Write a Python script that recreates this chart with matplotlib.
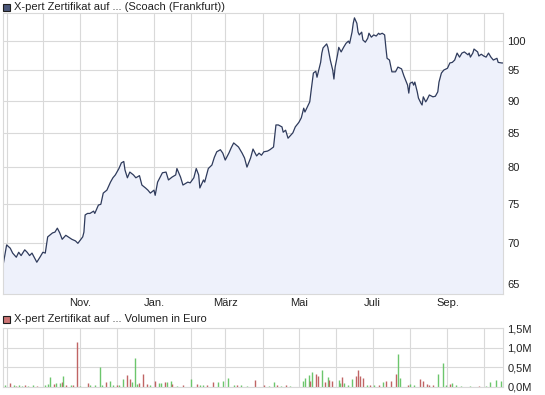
import matplotlib
matplotlib.use('Agg')
import matplotlib.pyplot as plt
import matplotlib.dates as mdates
import matplotlib.ticker as mticker
from matplotlib.patches import Rectangle
import pandas as pd

# price series (EUR)
price_dates = [
    '2012-08-29', '2012-09-01', '2012-09-04', '2012-09-06', '2012-09-09', '2012-09-11', '2012-09-13',
    '2012-09-16', '2012-09-18', '2012-09-20', '2012-09-22', '2012-09-26', '2012-09-29', '2012-10-01',
    '2012-10-03', '2012-10-05', '2012-10-09', '2012-10-11', '2012-10-13', '2012-10-15', '2012-10-17',
    '2012-10-20', '2012-10-22', '2012-10-25', '2012-10-28', '2012-10-30', '2012-11-03', '2012-11-04',
    '2012-11-05', '2012-11-07', '2012-11-09', '2012-11-12', '2012-11-13', '2012-11-16', '2012-11-18',
    '2012-11-20', '2012-11-23', '2012-11-26', '2012-11-28', '2012-11-30', '2012-12-03', '2012-12-05',
    '2012-12-07', '2012-12-08', '2012-12-10', '2012-12-12', '2012-12-15', '2012-12-17', '2012-12-20',
    '2012-12-22', '2012-12-25', '2012-12-27', '2012-12-29', '2013-01-01', '2013-01-02', '2013-01-04',
    '2013-01-08', '2013-01-11', '2013-01-13', '2013-01-16', '2013-01-19', '2013-01-20', '2013-01-23',
    '2013-01-25', '2013-01-29', '2013-01-31', '2013-02-03', '2013-02-05', '2013-02-07', '2013-02-08',
    '2013-02-11', '2013-02-12', '2013-02-15', '2013-02-18', '2013-02-20', '2013-02-22', '2013-02-25',
    '2013-02-27', '2013-03-01', '2013-03-04', '2013-03-06', '2013-03-08', '2013-03-10', '2013-03-12',
    '2013-03-15', '2013-03-17', '2013-03-19', '2013-03-22', '2013-03-24', '2013-03-27', '2013-03-29',
    '2013-03-31', '2013-04-02', '2013-04-05', '2013-04-07', '2013-04-10', '2013-04-12', '2013-04-14',
    '2013-04-17', '2013-04-18', '2013-04-20', '2013-04-22', '2013-04-26', '2013-04-28', '2013-05-01',
    '2013-05-03', '2013-05-05', '2013-05-06', '2013-05-08', '2013-05-10', '2013-05-11', '2013-05-13',
    '2013-05-15', '2013-05-16', '2013-05-19', '2013-05-20', '2013-05-21', '2013-05-24', '2013-05-25',
    '2013-05-27', '2013-05-29', '2013-05-30', '2013-05-31', '2013-06-02', '2013-06-03', '2013-06-05',
    '2013-06-07', '2013-06-09', '2013-06-11', '2013-06-12', '2013-06-14', '2013-06-15', '2013-06-16',
    '2013-06-18', '2013-06-19', '2013-06-20', '2013-06-22', '2013-06-23', '2013-06-25', '2013-06-27',
    '2013-06-28', '2013-06-30', '2013-07-02', '2013-07-04', '2013-07-06', '2013-07-07', '2013-07-09',
    '2013-07-11', '2013-07-12', '2013-07-13', '2013-07-15', '2013-07-17', '2013-07-20', '2013-07-22',
    '2013-07-25', '2013-07-27', '2013-07-30', '2013-07-31', '2013-08-01', '2013-08-03', '2013-08-04',
    '2013-08-05', '2013-08-07', '2013-08-08', '2013-08-10', '2013-08-11', '2013-08-12', '2013-08-14',
    '2013-08-15', '2013-08-17', '2013-08-20', '2013-08-22', '2013-08-24', '2013-08-25', '2013-08-27',
    '2013-08-29', '2013-09-01', '2013-09-03', '2013-09-05', '2013-09-07', '2013-09-09', '2013-09-11',
    '2013-09-13', '2013-09-15', '2013-09-18', '2013-09-19', '2013-09-20', '2013-09-22', '2013-09-23',
    '2013-09-26', '2013-09-27', '2013-09-29', '2013-10-01', '2013-10-03', '2013-10-05', '2013-10-07',
    '2013-10-09', '2013-10-12', '2013-10-13', '2013-10-16', '2013-10-17',
]
prices = [
    67.2, 69.7, 69.3, 68.7, 68.2, 68.8, 68.4,
    69.1, 68.8, 68.4, 68.7, 67.6, 68.3, 68.8,
    68.7, 70.7, 71.2, 71.3, 71.8, 71.2, 70.4,
    70.9, 70.7, 70.4, 70.2, 69.9, 70.7, 71.3,
    73.5, 73.7, 73.7, 74.0, 73.7, 74.8, 74.9,
    76.4, 76.8, 77.9, 78.5, 78.9, 79.8, 80.6,
    80.8, 79.6, 78.5, 79.3, 78.9, 78.5, 78.8,
    77.5, 77.1, 76.8, 76.4, 76.8, 76.1, 77.9,
    79.2, 79.3, 78.2, 78.6, 78.9, 79.8, 78.6,
    77.5, 77.9, 77.8, 78.5, 79.8, 78.9, 77.1,
    78.2, 77.9, 79.8, 80.3, 81.4, 82.2, 82.5,
    82.0, 81.0, 82.0, 82.8, 83.5, 83.2, 82.9,
    82.0, 81.3, 80.0, 81.3, 82.6, 81.6, 82.0,
    81.7, 82.2, 82.3, 82.5, 82.9, 86.2, 86.2,
    85.9, 85.1, 85.4, 84.2, 85.0, 85.9, 86.6,
    87.3, 88.8, 88.2, 89.0, 89.8, 91.4, 94.5,
    94.8, 93.8, 96.3, 97.9, 98.8, 99.5, 98.9,
    96.7, 95.0, 93.5, 95.5, 97.6, 98.9, 98.1,
    98.9, 99.6, 100.0, 99.6, 101.6, 103.2, 104.2,
    103.2, 101.6, 101.1, 101.6, 100.2, 99.8, 100.5,
    101.4, 100.7, 101.1, 100.9, 101.4, 101.2, 101.4,
    101.1, 98.9, 97.0, 96.7, 94.7, 94.7, 95.5,
    95.2, 94.0, 92.5, 91.2, 92.8, 93.0, 92.5,
    93.0, 91.4, 90.4, 89.6, 89.3, 90.6, 89.8,
    90.1, 90.9, 90.6, 90.7, 91.4, 93.0, 94.5,
    95.0, 95.3, 96.2, 96.3, 96.7, 97.9, 97.2,
    97.9, 98.1, 97.6, 97.9, 97.2, 97.9, 98.6,
    98.1, 97.4, 97.7, 97.4, 97.2, 97.9, 97.2,
    96.7, 97.0, 96.3, 96.2, 96.2,
]

# traded volume (million EUR); 1 = price up (green), 0 = down (red)
vol_dates = [
    '2012-08-31', '2012-09-04', '2012-09-07', '2012-09-09', '2012-09-11', '2012-09-14', '2012-09-16',
    '2012-09-19', '2012-09-23', '2012-09-26', '2012-10-03', '2012-10-05', '2012-10-07', '2012-10-10',
    '2012-10-12', '2012-10-15', '2012-10-17', '2012-10-18', '2012-10-20', '2012-10-24', '2012-10-26',
    '2012-10-29', '2012-11-01', '2012-11-07', '2012-11-09', '2012-11-13', '2012-11-17', '2012-11-19',
    '2012-11-22', '2012-11-26', '2012-11-28', '2012-12-01', '2012-12-03', '2012-12-06', '2012-12-10',
    '2012-12-12', '2012-12-14', '2012-12-16', '2012-12-18', '2012-12-20', '2012-12-23', '2012-12-26',
    '2012-12-29', '2013-01-02', '2013-01-05', '2013-01-07', '2013-01-10', '2013-01-12', '2013-01-15',
    '2013-01-16', '2013-01-20', '2013-01-25', '2013-02-01', '2013-02-06', '2013-02-08', '2013-02-11',
    '2013-02-14', '2013-02-19', '2013-02-23', '2013-02-27', '2013-03-03', '2013-03-08', '2013-03-11',
    '2013-03-14', '2013-03-19', '2013-03-26', '2013-04-02', '2013-04-06', '2013-04-10', '2013-04-13',
    '2013-04-16', '2013-04-20', '2013-04-24', '2013-05-04', '2013-05-06', '2013-05-09', '2013-05-10',
    '2013-05-12', '2013-05-15', '2013-05-17', '2013-05-20', '2013-05-23', '2013-05-25', '2013-05-26',
    '2013-05-28', '2013-06-03', '2013-06-04', '2013-06-06', '2013-06-07', '2013-06-11', '2013-06-14',
    '2013-06-17', '2013-06-19', '2013-06-21', '2013-06-23', '2013-06-26', '2013-06-29', '2013-07-02',
    '2013-07-06', '2013-07-10', '2013-07-12', '2013-07-16', '2013-07-20', '2013-07-22', '2013-07-24',
    '2013-07-30', '2013-08-01', '2013-08-04', '2013-08-09', '2013-08-12', '2013-08-15', '2013-08-17',
    '2013-08-20', '2013-08-24', '2013-08-28', '2013-08-31', '2013-09-03', '2013-09-05', '2013-09-08',
    '2013-09-12', '2013-09-20', '2013-09-27', '2013-10-03', '2013-10-06', '2013-10-11', '2013-10-15',
]
volumes = [
    0.05, 0.11, 0.04, 0.03, 0.04, 0.03, 0.04,
    0.03, 0.04, 0.03, 0.06, 0.08, 0.26, 0.08,
    0.09, 0.10, 0.13, 0.28, 0.04, 0.04, 0.05,
    1.15, 0.03, 0.11, 0.06, 0.04, 0.51, 0.04,
    0.13, 0.15, 0.05, 0.06, 0.05, 0.21, 0.30,
    0.20, 0.13, 0.73, 0.08, 0.11, 0.32, 0.07,
    0.04, 0.15, 0.10, 0.09, 0.13, 0.13, 0.15,
    0.08, 0.03, 0.04, 0.20, 0.08, 0.05, 0.06,
    0.04, 0.13, 0.13, 0.15, 0.24, 0.05, 0.05,
    0.04, 0.03, 0.18, 0.04, 0.03, 0.13, 0.04,
    0.03, 0.04, 0.03, 0.15, 0.24, 0.30, 0.15,
    0.37, 0.34, 0.28, 0.44, 0.13, 0.26, 0.18,
    0.15, 0.18, 0.10, 0.26, 0.11, 0.04, 0.21,
    0.28, 0.44, 0.28, 0.24, 0.06, 0.05, 0.04,
    0.06, 0.13, 0.15, 0.15, 0.32, 0.84, 0.24,
    0.05, 0.08, 0.05, 0.21, 0.15, 0.08, 0.06,
    0.05, 0.32, 0.60, 0.05, 0.08, 0.11, 0.06,
    0.03, 0.02, 0.03, 0.03, 0.13, 0.17, 0.15,
]
vol_up = [
    1, 0, 1, 0, 1, 1, 0,
    1, 1, 0, 1, 1, 1, 0,
    1, 1, 0, 1, 0, 1, 0,
    0, 1, 0, 1, 1, 1, 1,
    0, 1, 1, 0, 1, 1, 0,
    0, 1, 1, 1, 0, 0, 0,
    1, 0, 1, 1, 0, 1, 1,
    0, 1, 0, 1, 0, 1, 1,
    0, 0, 1, 1, 1, 1, 0,
    1, 1, 0, 0, 1, 1, 0,
    1, 0, 1, 1, 1, 1, 0,
    1, 0, 0, 1, 0, 1, 0,
    0, 1, 1, 0, 1, 1, 1,
    0, 0, 0, 0, 1, 0, 1,
    0, 1, 0, 0, 0, 1, 1,
    0, 1, 1, 0, 0, 0, 0,
    0, 1, 1, 1, 0, 1, 1,
    1, 1, 0, 1, 1, 1, 1,
]

month_ticks = ['2012-11-01', '2013-01-01', '2013-03-01', '2013-05-01', '2013-07-01', '2013-09-01']
month_labels = ['Nov.', 'Jan.', 'März', 'Mai', 'Juli', 'Sep.']
price_ticks = [65, 70, 75, 80, 85, 90, 95, 100]
vol_ticks = [0.0, 0.5, 1.0, 1.5]
vol_tick_labels = ['0,0M', '0,5M', '1,0M', '1,5M']
title_price = 'X-pert Zertifikat auf ... (Scoach (Frankfurt))'
title_vol = 'X-pert Zertifikat auf ... Volumen in Euro'

plt.rcParams['font.family'] = ['Liberation Sans', 'DejaVu Sans']
plt.rcParams['font.size'] = 8

px = pd.to_datetime(price_dates)
vx = pd.to_datetime(vol_dates)
mx = mdates.date2num(pd.to_datetime(month_ticks))

grid_col = '#d9d9d9'
fig = plt.figure(figsize=(5.45, 3.95), dpi=100)
W, H = 545, 395
ax1 = fig.add_axes([3 / W, 1 - 294 / H, 500 / W, 281 / H])
ax2 = fig.add_axes([3 / W, 1 - 387 / H, 500 / W, 59 / H])

# price panel
ax1.set_yscale('log')
ax1.fill_between(px, prices, 10, color='#eef1fb', lw=0)
ax1.plot(px, prices, color='#2f3b5c', lw=0.9)
ax1.set_ylim(63.9, 105.1)
ax1.yaxis.set_major_locator(mticker.FixedLocator(price_ticks))
ax1.yaxis.set_major_formatter(mticker.FixedFormatter([str(t) for t in price_ticks]))
ax1.yaxis.set_minor_locator(mticker.NullLocator())

# volume panel
ax2.vlines(vx, 0, volumes, colors=['#6cc66c' if u else '#c06464' for u in vol_up], lw=1)
ax2.set_ylim(0, 1.5)
ax2.yaxis.set_major_locator(mticker.FixedLocator(vol_ticks))
ax2.yaxis.set_major_formatter(mticker.FixedFormatter(vol_tick_labels))

for ax in (ax1, ax2):
    ax.set_xlim(px[0], px[-1])
    ax.xaxis.set_major_locator(mticker.FixedLocator(mx))
    ax.xaxis.set_minor_locator(mdates.MonthLocator())
    ax.yaxis.tick_right()
    ax.tick_params(which='both', length=0, pad=3, labelcolor='#222222', labelsize=8)
    ax.grid(True, which='both', axis='x', color=grid_col, lw=0.8)
    ax.grid(True, which='major', axis='y', color=grid_col, lw=0.8)
    ax.set_axisbelow(True)
    for s in ax.spines.values():
        s.set_color(grid_col)
        s.set_linewidth(0.8)

ax1.xaxis.set_major_formatter(mticker.FixedFormatter(month_labels))
ax2.xaxis.set_major_formatter(mticker.NullFormatter())

# legend squares and titles
fig.add_artist(Rectangle((3 / W, 1 - 11 / H), 7 / W, 7 / H, transform=fig.transFigure,
                         fc='#4b5779', ec='#1e1e1e', lw=0.8))
fig.text(14 / W, 1 - 7.5 / H, title_price, va='center', ha='left', fontsize=8, color='#222222')
fig.add_artist(Rectangle((3 / W, 1 - 323 / H), 7 / W, 7 / H, transform=fig.transFigure,
                         fc='#cc7474', ec='#1e1e1e', lw=0.8))
fig.text(14 / W, 1 - 319.5 / H, title_vol, va='center', ha='left', fontsize=8, color='#222222')

fig.savefig('out.png', dpi=100)
